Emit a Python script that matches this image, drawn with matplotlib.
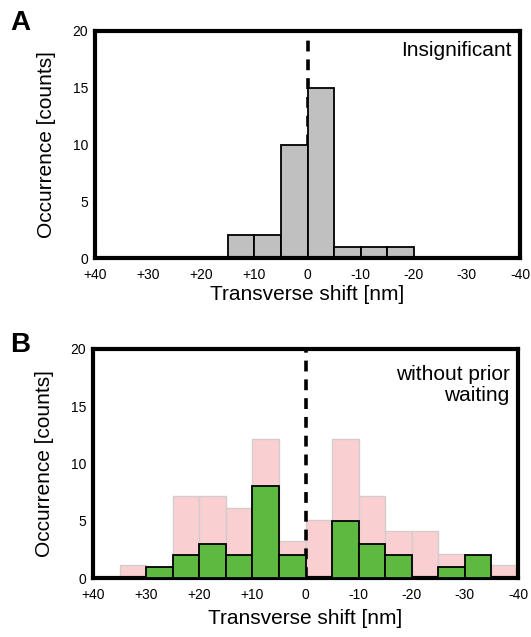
import matplotlib.pyplot as plt
import numpy as np

plt.rcParams['font.family'] = ['Liberation Sans', 'DejaVu Sans']

# bin left edges (shift in nm), 5 nm wide, axis runs from +40 to -40
bin_edges = [40, 35, 30, 25, 20, 15, 10, 5, 0, -5, -10, -15, -20, -25, -30, -35]

# panel A: insignificant
counts_a = [0, 0, 0, 0, 0, 2, 2, 10, 15, 1, 1, 1, 0, 0, 0, 0]

# panel B: background (pink) and without prior waiting (green)
counts_pink = [0, 1.15, 0, 7.15, 7.15, 6.1, 12.1, 3.2, 5.1, 12.1, 7.15, 4.1, 4.1, 2.1, 1.0, 1.15]
counts_green = [0, 0, 1, 2, 3, 2, 8, 2, 0, 5, 3, 2, 0, 1, 2, 0]

xticks = [40, 30, 20, 10, 0, -10, -20, -30, -40]
xtick_labels = ["+40", "+30", "+20", "+10", "0", "-10", "-20", "-30", "-40"]

fig = plt.figure(figsize=(5.31, 6.37), dpi=100)
ax_a = fig.add_axes([95 / 531, 1 - 258 / 637, 425 / 531, 227 / 637])
ax_b = fig.add_axes([93 / 531, 1 - 578 / 637, 425 / 531, 229 / 637])

left = np.array(bin_edges)
width = -5


def style(ax, xpad):
    ax.set_xlim(40, -40)
    ax.set_ylim(0, 20)
    ax.set_xticks(xticks)
    ax.set_xticklabels(xtick_labels)
    ax.set_yticks([0, 5, 10, 15, 20])
    ax.tick_params(axis="x", length=0, labelsize=10, pad=7)
    ax.tick_params(axis="y", length=0, labelsize=10, pad=5)
    for s in ax.spines.values():
        s.set_linewidth(3)
    ax.set_xlabel("Transverse shift [nm]", fontsize=15, labelpad=xpad)
    ax.set_ylabel("Occurrence [counts]", fontsize=15, labelpad=12)


# panel A
ax_a.axvline(0, color="black", linestyle=(0, (3, 2.2)), linewidth=2.6, zorder=1)
mask = np.array(counts_a) > 0
ax_a.bar(left[mask], np.array(counts_a)[mask], width=width, align="edge",
         color="#c0c0c0", edgecolor="black", linewidth=1.3, zorder=2)
ax_a.text(0.98, 0.955, "Insignificant", transform=ax_a.transAxes,
          ha="right", va="top", fontsize=15)
style(ax_a, 2)

# panel B
mask_p = np.array(counts_pink) > 0
ax_b.bar(left[mask_p], np.array(counts_pink)[mask_p], width=width, align="edge",
         color="#f9cfd2", edgecolor="#d6cccc", linewidth=1.0, zorder=1)
ax_b.axvline(0, color="black", linestyle=(0, (3, 2.2)), linewidth=2.6, zorder=2)
mask_g = np.array(counts_green) > 0
ax_b.bar(left[mask_g], np.array(counts_green)[mask_g], width=width, align="edge",
         color="#5db93f", edgecolor="black", linewidth=1.3, zorder=3)
ax_b.text(0.98, 0.93, "without prior\nwaiting", transform=ax_b.transAxes,
          ha="right", va="top", fontsize=15, linespacing=1.1)
style(ax_b, 5)

fig.text(10 / 531, 1 - 23 / 637, "A", fontsize=20, fontweight="bold", va="center")
fig.text(10 / 531, 1 - 345 / 637, "B", fontsize=20, fontweight="bold", va="center")

fig.savefig("out.png", dpi=100)
